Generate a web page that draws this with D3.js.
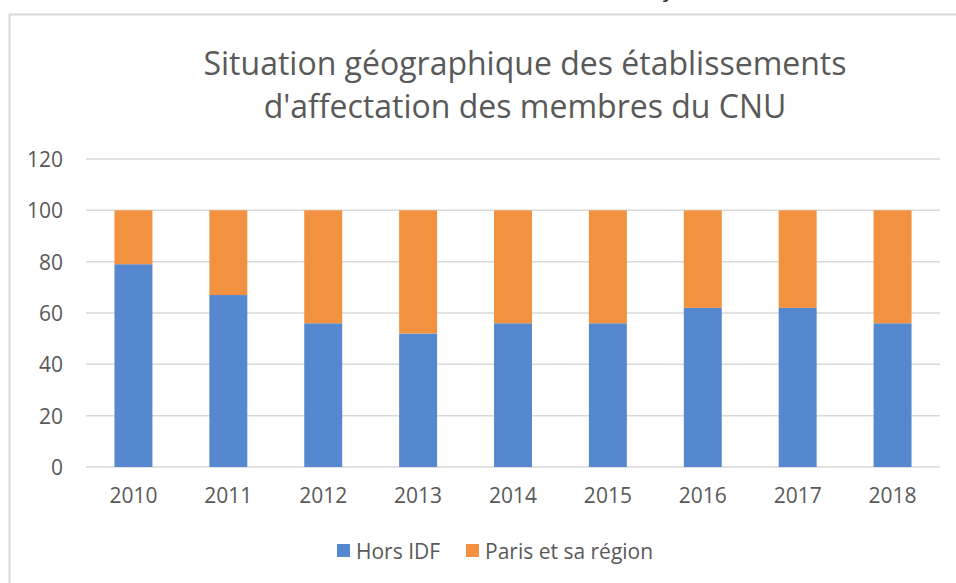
<!DOCTYPE html>
<html lang="fr">
<head>
  <meta charset="UTF-8">
  <title>Situation géographique</title>
  <style>
    body { margin: 0; background: #fff; overflow: hidden; }
    svg { font-family: 'Open Sans', sans-serif; }
  </style>
</head>
<body>
  <svg width="956" height="583"></svg>

  <script src="https://d3js.org/d3.v7.min.js"></script>
  <script>
    var years = ['2010', '2011', '2012', '2013', '2014', '2015', '2016', '2017', '2018'];
    var horsIdf = [79, 67, 56, 52, 56, 56, 62, 62, 56];
    var paris = [21, 33, 44, 48, 44, 44, 38, 38, 44];
    var seriesNames = ['Hors IDF', 'Paris et sa région'];
    var colors = ['#5588cf', '#f29240'];
    var yTicks = [0, 20, 40, 60, 80, 100, 120];

    var svg = d3.select('svg');

    // frame of the chart area
    svg.append('rect')
      .attr('x', 9.5).attr('y', 14.5)
      .attr('width', 960).attr('height', 600)
      .attr('fill', 'none')
      .attr('stroke', '#d9d9d9')
      .attr('stroke-width', 2);

    // cut-off letter above the chart (only its tail shows)
    svg.append('text')
      .attr('x', 663).attr('y', -3)
      .attr('font-size', 22)
      .attr('fill', '#222')
      .text('y');

    var x = d3.scaleBand()
      .domain(years)
      .range([86, 940])
      .paddingInner(0.6)
      .paddingOuter(0.3);

    var y = d3.scaleLinear()
      .domain([0, 120])
      .range([467, 159]);

    // gridlines
    svg.append('g')
      .selectAll('line')
      .data(yTicks)
      .enter()
        .append('line')
        .attr('x1', 86).attr('x2', 940)
        .attr('y1', function(d) { return y(d); })
        .attr('y2', function(d) { return y(d); })
        .attr('stroke', '#d9d9d9')
        .attr('stroke-width', 1.5);

    var yAxis = svg.append('g')
      .attr('transform', 'translate(63,0)')
      .call(d3.axisLeft(y).tickValues(yTicks).tickSize(0).tickPadding(0));
    yAxis.select('.domain').remove();

    var xAxis = svg.append('g')
      .attr('transform', 'translate(0,467)')
      .call(d3.axisBottom(x).tickSize(0).tickPadding(21));
    xAxis.select('.domain').remove();

    [yAxis, xAxis].forEach(function(ax) {
      ax.attr('font-family', "'Open Sans', sans-serif").attr('font-size', 21);
      ax.selectAll('text').attr('fill', '#595959');
    });
    yAxis.selectAll('text').attr('dy', '0.36em');

    var rows = years.map(function(yr, i) {
      return { year: yr, 'Hors IDF': horsIdf[i], 'Paris et sa région': paris[i] };
    });
    var stack = d3.stack().keys(seriesNames)(rows);

    svg.append('g')
      .selectAll('g')
      .data(stack)
      .enter()
        .append('g')
        .attr('fill', function(d, i) { return colors[i]; })
        .selectAll('rect')
        .data(function(d) { return d; })
        .enter()
          .append('rect')
          .attr('x', function(d) { return x(d.data.year); })
          .attr('y', function(d) { return y(d[1]); })
          .attr('width', x.bandwidth())
          .attr('height', function(d) { return y(d[0]) - y(d[1]); });

    // title
    var title = svg.append('text')
      .attr('text-anchor', 'middle')
      .attr('fill', '#595959')
      .attr('font-size', 32);
    title.append('tspan').attr('x', 525).attr('y', 75)
      .text('Situation géographique des établissements');
    title.append('tspan').attr('x', 525).attr('y', 118)
      .text("d'affectation des membres du CNU");

    // legend
    var legendX = [337, 466];
    var legend = svg.append('g')
      .selectAll('g')
      .data(seriesNames)
      .enter()
        .append('g')
        .attr('transform', function(d, i) { return 'translate(' + legendX[i] + ',544)'; });
    legend.append('rect')
      .attr('width', 13).attr('height', 13)
      .attr('fill', function(d, i) { return colors[i]; });
    legend.append('text')
      .attr('x', 19).attr('y', 14.5)
      .attr('fill', '#595959')
      .attr('font-size', 21)
      .text(function(d) { return d; });
  </script>
</body>
</html>
